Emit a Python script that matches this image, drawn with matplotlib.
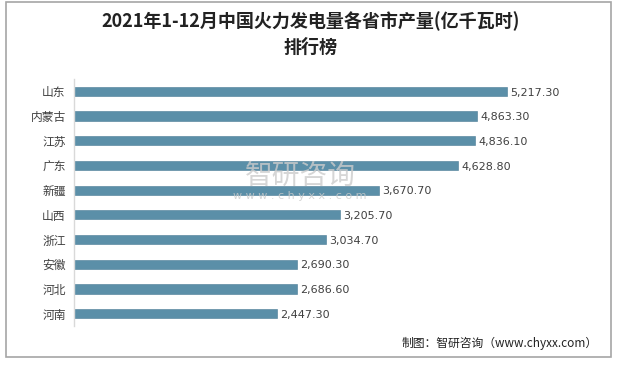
import matplotlib
matplotlib.use("Agg")
import matplotlib.pyplot as plt
from matplotlib.patches import Rectangle

plt.rcParams['font.family'] = ['Noto Sans CJK SC', 'DejaVu Sans']

provinces = ["山东", "内蒙古", "江苏", "广东", "新疆", "山西", "浙江", "安徽", "河北", "河南"]
values = [5217.30, 4863.30, 4836.10, 4628.80, 3670.70, 3205.70, 3034.70, 2690.30, 2686.60, 2447.30]
title = "2021年1-12月中国火力发电量各省市产量(亿千瓦时)\n排行榜"
source = "制图：智研咨询（www.chyxx.com）"

W, H = 621, 368
fig = plt.figure(figsize=(W / 100, H / 100), dpi=100)

# outer frame
fig.patches.append(Rectangle((6 / W, 1 - 357 / H), (611 - 6) / W, (357 - 2) / H,
                             transform=fig.transFigure, fill=False,
                             edgecolor="#a6a6a6", linewidth=1.2))

# watermark (behind the bars)
fig.text(300 / W, 1 - 176 / H, "智研咨询", ha="center", va="center", fontsize=20,
         color="#cccccc", alpha=0.8, zorder=0)
fig.text(300 / W, 1 - 196 / H, "w w w . c h y x x . c o m", ha="center", va="center",
         fontsize=8, color="#cccccc", alpha=0.8, family=["DejaVu Sans"], zorder=0)

ax = fig.add_axes([74 / W, 1 - 326 / H, (600 - 74) / W, (326 - 79) / H])
ax.patch.set_alpha(0)
ypos = list(range(len(provinces)))
ax.barh(ypos, values, height=0.37, color="#5b8fa8", edgecolor="#4a7c95", linewidth=0.4)
ax.set_ylim(len(provinces) - 0.5, -0.5)
ax.set_xlim(0, 6340)
ax.set_yticks(ypos)
ax.set_yticklabels(provinces, fontsize=8.5, color="#404040")
ax.tick_params(axis='y', length=0, pad=6)
ax.set_xticks([])
for s in ["top", "right", "bottom"]:
    ax.spines[s].set_visible(False)
ax.spines["left"].set_color("#d9d9d9")
ax.spines["left"].set_linewidth(1.0)

for y, v in zip(ypos, values):
    ax.text(v + 40, y + 0.05, f"{v:,.2f}", va="center", ha="left", fontsize=8,
            color="#404040", family=["DejaVu Sans"])

fig.text(0.5, 1 - 34 / H, title, ha="center", va="center", fontsize=13,
         fontweight="bold", color="#222222", linespacing=1.45)

fig.text(598 / W, 1 - 343 / H, source, ha="right", va="center", fontsize=8.5,
         color="#222222")

fig.savefig("out.png", dpi=100)
